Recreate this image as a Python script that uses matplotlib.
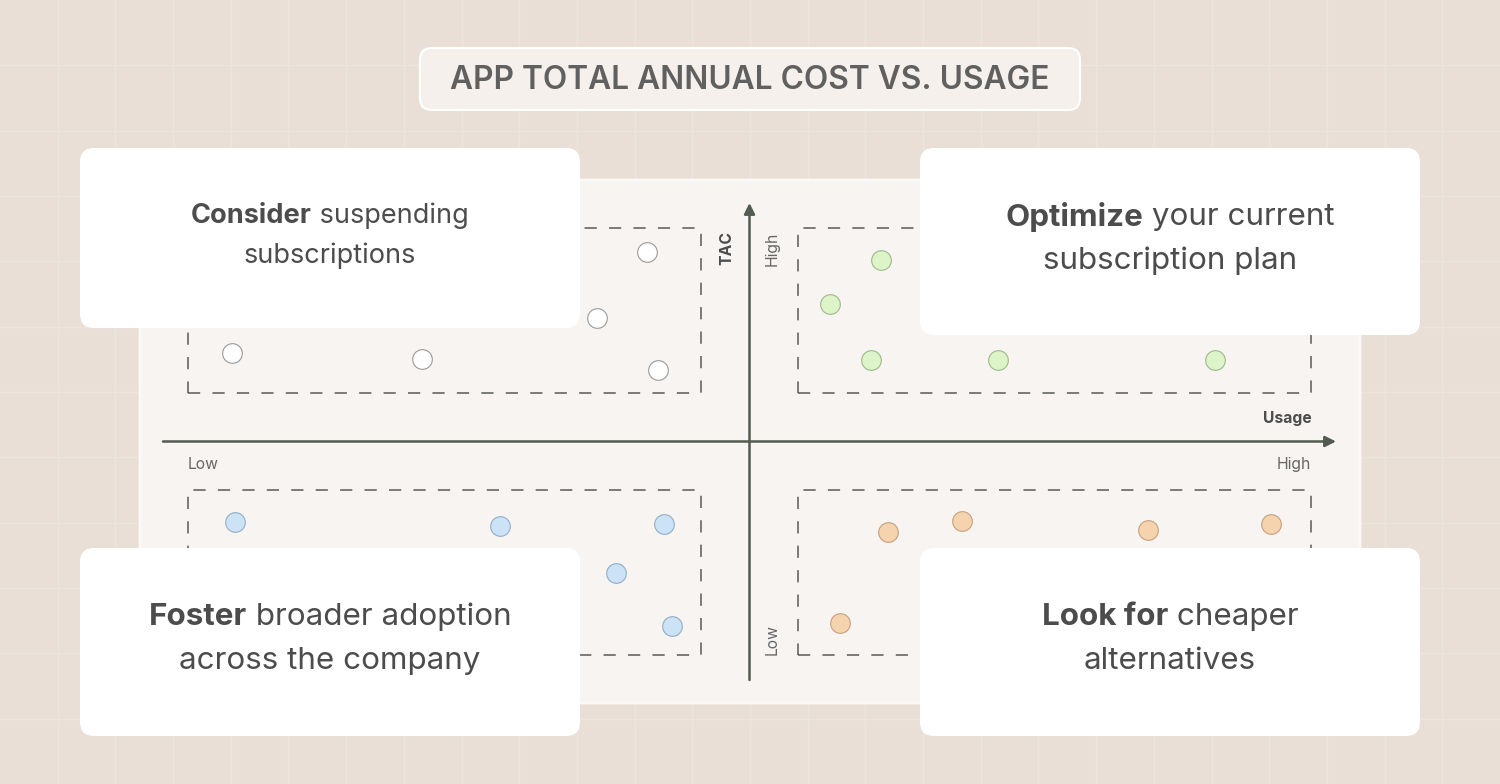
import matplotlib.pyplot as plt
from matplotlib.patches import FancyBboxPatch, Rectangle
import numpy as np

plt.rcParams['font.family'] = ['Inter', 'DejaVu Sans']

# usage (x) / total annual cost (y), both on a 0-100 scale
suspend_x = [41.3, 37.0, 5.9, 22.1, 42.2]
suspend_y = [89.7, 75.9, 68.6, 67.3, 65.0]
optimize_x = [61.2, 56.9, 60.4, 71.2, 89.7]
optimize_y = [88.1, 78.8, 67.1, 67.1, 67.1]
foster_x = [6.1, 28.7, 42.7, 38.6, 43.4]
foster_y = [33.1, 32.3, 32.7, 22.4, 11.3]
cheaper_x = [61.8, 68.1, 84.0, 94.5, 57.7]
cheaper_y = [31.0, 33.3, 31.4, 32.7, 11.9]

title = 'APP TOTAL ANNUAL COST VS. USAGE'
card_texts = [
    [[('Consider', 'bold'), (' suspending', 'normal')], [('subscriptions', 'normal')]],
    [[('Optimize', 'bold'), (' your current', 'normal')], [('subscription plan', 'normal')]],
    [[('Foster', 'bold'), (' broader adoption', 'normal')], [('across the company', 'normal')]],
    [[('Look for', 'bold'), (' cheaper', 'normal')], [('alternatives', 'normal')]],
]

W, H = 1500, 784
fig = plt.figure(figsize=(15, 7.84), dpi=100)
fig.patch.set_facecolor('#E9DFD6')

# background layer (pixel coords)
bg = fig.add_axes([0, 0, 1, 1])
bg.set_xlim(0, W)
bg.set_ylim(H, 0)
bg.axis('off')
for gx in np.arange(1, 26) * W / 26:
    bg.axvline(gx, color='#EDE5DD', lw=1.0, zorder=0)
for gy in np.arange(1, 12) * H / 12:
    bg.axhline(gy, color='#EDE5DD', lw=1.0, zorder=0)

bg.add_patch(FancyBboxPatch((140, 180), 1220, 523, boxstyle='round,pad=0,rounding_size=6',
                            fc='#F7F4F1', ec='#FBF9F7', lw=2, zorder=1))
bg.add_patch(FancyBboxPatch((420, 48), 660, 62, boxstyle='round,pad=0,rounding_size=12',
                            fc='#F5F0EB', ec='#FFFFFF', lw=1.5, zorder=1))
bg.text(750, 80, title, ha='center', va='center', fontsize=22.8, fontweight='semibold',
        color='#606060', zorder=2)

# chart layer
ax = fig.add_axes([163 / W, (H - 680) / H, 1173 / W, 477 / H])
ax.set_xlim(0, 100)
ax.set_ylim(0, 100)
ax.axis('off')
ax.patch.set_alpha(0)

axis_col = '#535A4F'
ax.annotate('', xy=(100, 50), xytext=(0, 50),
            arrowprops=dict(arrowstyle='-|>', color=axis_col, lw=1.8, mutation_scale=16,
                            shrinkA=0, shrinkB=0))
ax.annotate('', xy=(50, 100), xytext=(50, 0),
            arrowprops=dict(arrowstyle='-|>', color=axis_col, lw=1.8, mutation_scale=16,
                            shrinkA=0, shrinkB=0))

for x0, y0 in [(2.1, 60.2), (54.1, 60.2), (2.1, 5.2), (54.1, 5.2)]:
    ax.add_patch(Rectangle((x0, y0), 43.8, 34.6, fill=False, ec='#5A5A5A', lw=1.1,
                           ls=(0, (8, 8))))

ms = 200
ax.scatter(suspend_x, suspend_y, s=ms, c='#FFFFFF', edgecolors='#9A9A9A', linewidths=0.8, zorder=3)
ax.scatter(optimize_x, optimize_y, s=ms, c='#DDF3C8', edgecolors='#9DB98B', linewidths=0.8, zorder=3)
ax.scatter(foster_x, foster_y, s=ms, c='#CCE3F7', edgecolors='#93AEC6', linewidths=0.8, zorder=3)
ax.scatter(cheaper_x, cheaper_y, s=ms, c='#F5D3AE', edgecolors='#C6A27E', linewidths=0.8, zorder=3)

lab = '#666666'
fs_lab = 11.3
ax.text(48.1, 90.5, 'TAC', rotation=90, ha='center', va='center', fontsize=fs_lab,
        fontweight='bold', color='#4D4D4D')
ax.text(51.9, 90.5, 'High', rotation=90, ha='center', va='center', fontsize=fs_lab, color=lab)
ax.text(51.9, 8.5, 'Low', rotation=90, ha='center', va='center', fontsize=fs_lab, color=lab)
ax.text(97.9, 54.8, 'Usage', ha='right', va='center', fontsize=fs_lab, fontweight='bold',
        color='#4D4D4D')
ax.text(2.1, 45.2, 'Low', ha='left', va='center', fontsize=fs_lab, color=lab)
ax.text(97.9, 45.2, 'High', ha='right', va='center', fontsize=fs_lab, color=lab)

# card layer on top
top = fig.add_axes([0, 0, 1, 1])
top.set_xlim(0, W)
top.set_ylim(H, 0)
top.axis('off')
top.patch.set_alpha(0)

cards = [(80, 148, 500, 180, 19.5, [216, 256]),
         (920, 148, 500, 187, 22.6, [217, 261]),
         (80, 548, 500, 188, 22.6, [617, 661]),
         (920, 548, 500, 188, 22.6, [617, 661])]

renderer = fig.canvas.get_renderer()
for (cx, cy, cw, ch, fs, ys), lines in zip(cards, card_texts):
    top.add_patch(FancyBboxPatch((cx, cy), cw, ch, boxstyle='round,pad=0,rounding_size=14',
                                 fc='#FFFFFF', ec='none', zorder=5))
    mid = cx + cw / 2
    for yl, parts in zip(ys, lines):
        items = []
        for s, wt in parts:
            t = top.text(0, yl, s, ha='left', va='center', fontsize=fs, fontweight=wt,
                         color='#4C4C4C', zorder=6)
            items.append(t)
        widths = [t.get_window_extent(renderer).width for t in items]
        x = mid - sum(widths) / 2
        for t, w in zip(items, widths):
            t.set_x(x)
            x += w

fig.savefig('out.png', dpi=100, facecolor=fig.get_facecolor())
